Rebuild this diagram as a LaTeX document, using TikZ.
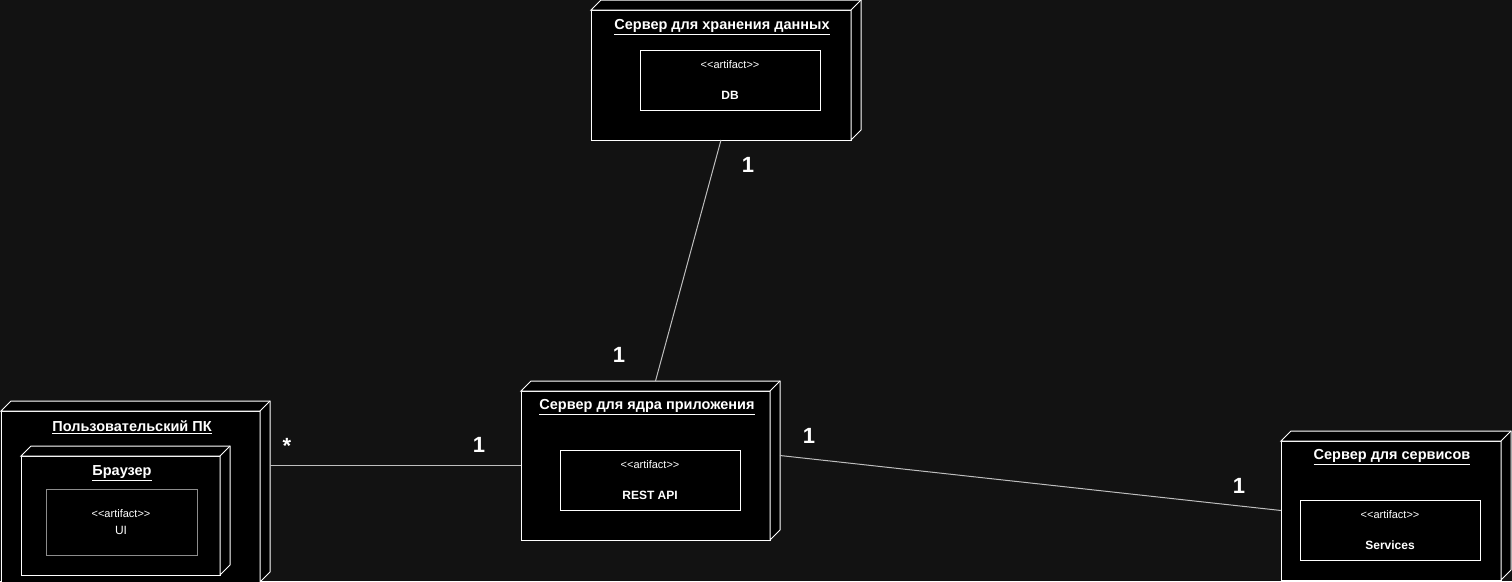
\documentclass[tikz,border=0pt]{standalone}
\usepackage{fontspec}
\setmainfont{Liberation Sans}
\usetikzlibrary{calc}
\definecolor{bg}{RGB}{18,18,18}
\definecolor{conncol}{RGB}{190,190,190}
\definecolor{artgray}{RGB}{140,140,140}
\newcommand\stereotext{<\kern0pt<artifact>\kern0pt>}
\tikzset{
 front/.style={draw=white, fill=black, line width=1pt, inner sep=0pt, outer sep=0pt, anchor=north west},
 face/.style={draw=white, fill=black, line width=1pt, line join=miter},
 art/.style={draw=white, fill=black, line width=1pt, inner sep=0pt, outer sep=0pt, anchor=north west},
 title/.style={font=\fontsize{14.5}{16}\selectfont\bfseries, text=white, inner sep=0pt},
 stereo/.style={font=\fontsize{11}{13}\selectfont, text=white, inner sep=0pt},
 artname/.style={font=\fontsize{12}{14}\selectfont\bfseries, text=white, inner sep=0pt},
 mult/.style={font=\fontsize{22}{26}\selectfont\bfseries, text=white, inner sep=0pt},
 conn/.style={draw=conncol, line width=1pt},
}
\newcommand\nodefaces[1]{%
 \filldraw[face] (#1.north west) -- ++(10,-10) -| ($(#1.south east)+(10,-10)$) -- (#1.south east) -- (#1.north east) -- cycle;
 \draw[face] (#1.north east) -- ++(10,-10);}
\begin{document}
\begin{tikzpicture}[x=1pt,y=-1pt]
\useasboundingbox (0,0) rectangle (1512,581);
\fill[bg] (0,0) rectangle (1512,581);

% Data storage server
\node[front, minimum width=260pt, minimum height=130pt] (db) at (591,10) {};
\nodefaces{db}
\node[title] (dbtitle) at (722,27) {\underline{Сервер для хранения данных}};
\node[art, minimum width=180pt, minimum height=60pt] (dbart) at (640,50) {};
\node[stereo] (dbst) at (730,65) {\stereotext};
\node[artname] (dbname) at (730,95) {DB};

% Core server
\node[front, minimum width=249pt, minimum height=149pt] (core) at (521,391) {};
\nodefaces{core}
\node[title] (coretitle) at (647,407) {\underline{Сервер для ядра приложения}};
\node[art, minimum width=180pt, minimum height=60pt] (coreart) at (560,450) {};
\node[stereo] (corest) at (650,465) {\stereotext};
\node[artname] (corename) at (650,495) {REST API};

% User PC
\node[front, minimum width=259pt, minimum height=171pt] (pc) at (1,411) {};
\nodefaces{pc}
\node[title] (pctitle) at (132,427) {\underline{Пользовательский ПК}};
\node[front, minimum width=199pt, minimum height=119pt] (br) at (21,456) {};
\nodefaces{br}
\node[title] (brtitle) at (122,473) {\underline{Браузер}};
\node[art, draw=artgray, minimum width=151pt, minimum height=66pt] (uiart) at (46,489) {};
\node[stereo] (uist) at (121,514) {\stereotext};
\node[stereo, font=\fontsize{12}{14}\selectfont] (uiname) at (121,530) {UI};

% Services server
\node[front, minimum width=220pt, minimum height=139pt] (srv) at (1281,441) {};
\nodefaces{srv}
\node[title] (srvtitle) at (1392,457) {\underline{Сервер для сервисов}};
\node[art, minimum width=180pt, minimum height=60pt] (srvart) at (1300,500) {};
\node[stereo] (srvst) at (1390,515) {\stereotext};
\node[artname] (srvname) at (1390,545) {Services};

% connector ends on the back faces
\coordinate (coretop) at ($(core.north)+(10,-10)$);
\coordinate (coreright) at ($(core.east)+(10,-10)$);
\coordinate (pcright) at ($(core.west -| pc.east)+(10,0)$);

\draw[conn] (db.south) -- (coretop);
\draw[conn] (pcright) -- (core.west);
\draw[conn] (coreright) -- (srv.west);

% multiplicities
\node[mult] (m1) at (748,165) {1};
\node[mult] (m2) at (619,355) {1};
\node[mult] (m3) at (287,446) {*};
\node[mult] (m4) at (479,445) {1};
\node[mult] (m5) at (809,436) {1};
\node[mult] (m6) at (1239,486) {1};
\end{tikzpicture}
\end{document}
